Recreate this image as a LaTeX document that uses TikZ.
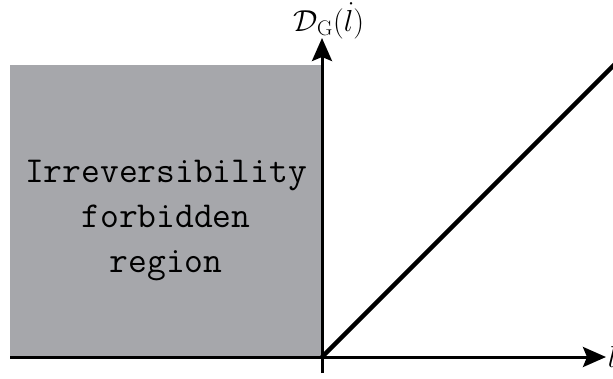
\documentclass[tikz,border=0pt]{standalone}
\usetikzlibrary{arrows.meta}
\definecolor{forbidgray}{RGB}{166,167,171}

\begin{document}
\begin{tikzpicture}[x=1pt,y=-1pt,line width=3pt,
  axis/.style={-{Stealth[length=23pt,width=20pt,inset=4pt]}},
  axislabel/.style={inner sep=0pt,font=\fontsize{24}{28}\selectfont,scale=1.22,transform shape}]
\path[use as bounding box] (0,0) rectangle (613,378);
\fill[forbidgray] (10,65) rectangle (322,357);
\node[anchor=center,align=center,inner sep=0pt,font=\ttfamily\fontsize{36.5}{45}\selectfont] (region) at (166,221) {Irreversibility\\ forbidden\\ region};
\coordinate (origin) at (322,357);
\coordinate (xstart) at (10,357);
\coordinate (xend) at (606,357);
\coordinate (ystart) at (322,373);
\coordinate (yend) at (322,38);
\draw[axis] (xstart) -- (xend);
\draw[axis] (ystart) -- (yend);
\node[axislabel,anchor=west] (xlabel) at (xend) {$l$};
\node[axislabel,anchor=base] (ylabel) at (329,31) {$\mathcal{D}_{\mathrm{G}}(\dot{l})$};
\draw[line width=4.5pt] (origin) -- (620,59);
\end{tikzpicture}
\end{document}
